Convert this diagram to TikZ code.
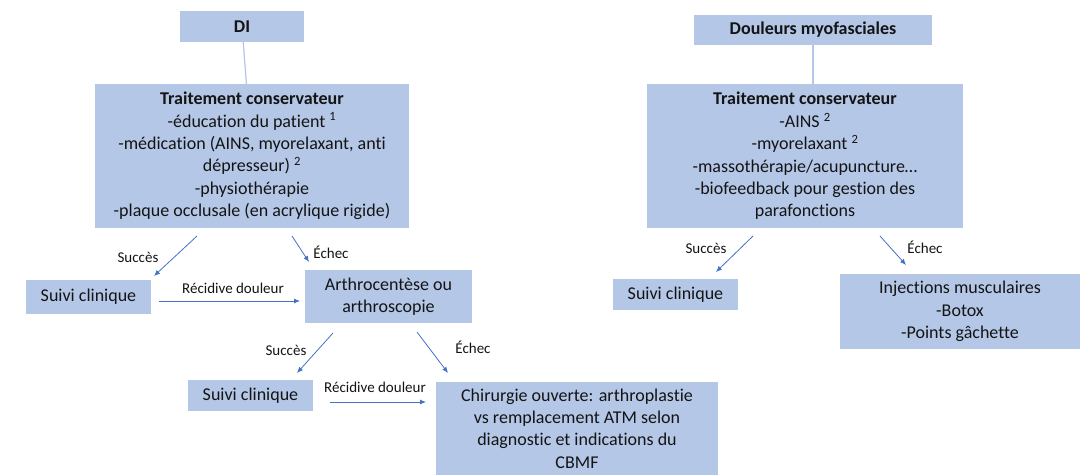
\documentclass[tikz,border=0pt]{standalone}
\usepackage{fontspec}
\setmainfont{Carlito}[Ligatures={NoCommon}]
\usetikzlibrary{arrows.meta}
\definecolor{boxblue}{RGB}{180,199,231}
\definecolor{arrowblue}{RGB}{68,114,196}
\definecolor{txt}{RGB}{20,20,20}
\tikzset{
  box/.style={fill=boxblue, inner sep=0pt, align=center, text=txt,
    font=\fontsize{18}{22.4}\selectfont},
  lbl/.style={font=\fontsize{15}{18}\selectfont, text=txt, inner sep=0pt},
  arr/.style={draw=arrowblue, line width=0.8pt, -{Latex[length=6pt,width=5pt]}},
  link/.style={draw=boxblue, line width=1.2pt}
}
\begin{document}
\begin{tikzpicture}[x=1pt,y=-1pt]
\useasboundingbox[fill=white] (0,0) rectangle (1080,475);
% nodes
\node[box, minimum width=124pt, minimum height=31pt] (di) at (242,26.5) {\textbf{DI}};
\node[box, minimum width=238pt, minimum height=30pt] (dm) at (813,30) {\textbf{Douleurs myofasciales}};
\node[box, minimum width=314pt, minimum height=144pt] (tdi) at (252,156)
  {\textbf{Traitement conservateur}\\-éducation du patient \textsuperscript{1}\\-médication (AINS, myorelaxant, anti\\dépresseur) \textsuperscript{2}\\-physiothérapie\\-plaque occlusale (en acrylique rigide)};
\node[box, minimum width=316pt, minimum height=144pt] (tdm) at (805,156)
  {\textbf{Traitement conservateur}\\-AINS \textsuperscript{2}\\-myorelaxant \textsuperscript{2}\\-massothérapie/acupuncture…\\-biofeedback pour gestion des\\parafonctions};
\node[box, minimum width=125pt, minimum height=34pt] (s1) at (88.5,297) {Suivi clinique};
\node[box, minimum width=167pt, minimum height=53pt] (ar) at (388.5,296.5) {Arthrocentèse ou\\arthroscopie};
\node[box, minimum width=125pt, minimum height=31pt] (s2) at (250.5,395.5) {Suivi clinique};
\node[box, minimum width=282pt, minimum height=93pt] (ch) at (577,428.5)
  {Chirurgie ouverte: arthroplastie\\vs remplacement ATM selon\\diagnostic et indications du\\CBMF};
\node[box, minimum width=125pt, minimum height=31pt] (s3) at (675.5,294.5) {Suivi clinique};
\node[box, minimum width=240pt, minimum height=75pt] (inj) at (960,311.5)
  {Injections musculaires\\-Botox\\-Points gâchette};
% links
\draw[link] (di) -- (tdi);
\draw[link] (dm.south -| 813,0) -- (tdm.north -| 813,0);
% arrow endpoints
\coordinate (a1s) at (197,236); \coordinate (a1e) at (154,276);
\coordinate (a2s) at (292,236); \coordinate (a2e) at (309,262);
\coordinate (a3s) at (159,301); \coordinate (a3e) at (300,301);
\coordinate (a4s) at (333,333); \coordinate (a4e) at (297,373);
\coordinate (a5s) at (417,332); \coordinate (a5e) at (448,373);
\coordinate (a6s) at (330,402); \coordinate (a6e) at (426,402);
\coordinate (a7s) at (753,236); \coordinate (a7e) at (716,272);
\coordinate (a8s) at (880,236); \coordinate (a8e) at (906,265);
\draw[arr] (a1s) -- (a1e);
\draw[arr] (a2s) -- (a2e);
\draw[arr] (a3s) -- (a3e);
\draw[arr] (a4s) -- (a4e);
\draw[arr] (a5s) -- (a5e);
\draw[arr] (a6s) -- (a6e);
\draw[arr] (a7s) -- (a7e);
\draw[arr] (a8s) -- (a8e);
% labels
\node[lbl] (l1) at (138,257) {Succès};
\node[lbl] (l2) at (331,252) {Échec};
\node[lbl] (l3) at (233,288) {Récidive douleur};
\node[lbl] (l4) at (286,350) {Succès};
\node[lbl] (l5) at (473,347) {Échec};
\node[lbl] (l6) at (375,387) {Récidive douleur};
\node[lbl] (l7) at (706,248) {Succès};
\node[lbl] (l8) at (925,247) {Échec};
\end{tikzpicture}
\end{document}
